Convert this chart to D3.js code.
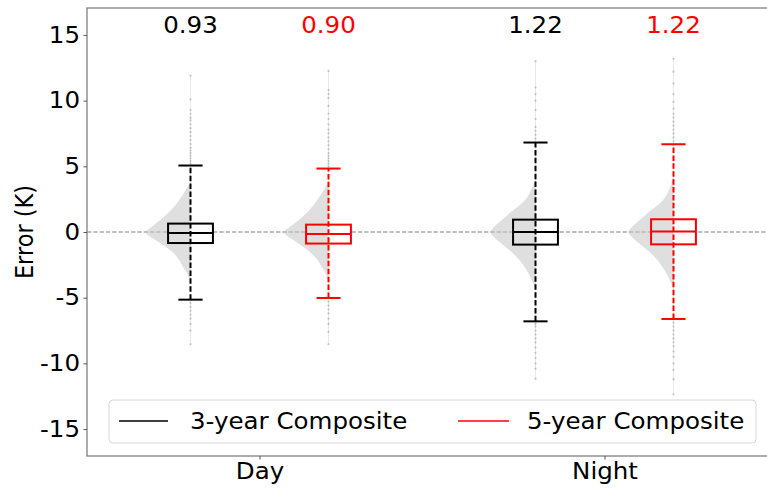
<!DOCTYPE html>
<html>
<head>
<meta charset="utf-8">
<script src="https://cdn.jsdelivr.net/npm/d3@7/dist/d3.min.js"></script>
<style>
  html, body { margin: 0; padding: 0; background: #fff; }
  svg { display: block; font-family: "DejaVu Sans", sans-serif; }
</style>
</head>
<body>
<svg id="chart" width="767" height="489"></svg>
<script>
// ---------------- DATA ----------------
const categories = ["Day", "Night"];
const seriesNames = ["3-year Composite", "5-year Composite"];
const seriesColors = ["#000000", "#ff0000"];
const yTicks = [-15, -10, -5, 0, 5, 10, 15];

// box statistics: [whiskerLow, q1, median, q3, whiskerHigh]
const day3Box   = [-5.15, -0.84, -0.08, 0.64, 5.06];
const day5Box   = [-5.02, -0.88, -0.15, 0.56, 4.83];
const night3Box = [-6.80, -0.96,  0.00, 0.94, 6.81];
const night5Box = [-6.62, -0.94,  0.03, 0.97, 6.68];

// RMSE labels shown above each box
const rmseLabels = ["0.93", "0.90", "1.22", "1.22"];

// outliers
const day3Fliers = [11.9, 10.1, 9.3, 9.0, 8.7, 8.5, 8.2, 7.9, 7.6, 7.3, 7.0, 6.7, 6.4, 6.2, 6.0, 5.8, 5.6, 5.4, 5.2,
                    -5.4, -5.7, -6.0, -6.3, -6.6, -7.0, -7.5, -8.55];
const day5Fliers = [12.26, 10.8, 10.5, 10.2, 9.6, 9.0, 8.6, 8.2, 7.8, 7.5, 7.2, 6.9, 6.6, 6.3, 6.0, 5.8, 5.6, 5.4, 5.2, 5.0,
                    -5.3, -5.6, -5.9, -6.2, -6.6, -7.0, -7.6, -8.55];
const night3Fliers = [13.0, 11.0, 10.5, 10.0, 9.3, 8.6, 8.0, 7.7, 7.4, 7.1,
                      -7.0, -7.2, -7.5, -7.8, -8.1, -8.4, -8.8, -9.2, -9.6, -10.0, -10.4, -11.17];
const night5Fliers = [13.2, 12.2, 11.3, 10.5, 9.9, 9.4, 9.0, 8.7, 8.4, 8.1, 7.8, 7.5, 7.2, 6.9,
                      -6.9, -7.2, -7.5, -7.8, -8.1, -8.4, -8.7, -9.1, -9.5, -10.0, -10.5, -11.2, -12.36];

// half-violin density profiles (relative density, peak = 1)
const day3ViolinY   = [-3.9, -3.2, -2.7, -2.2, -1.6, -1.2, -0.76, -0.4, 0, 0.3, 0.76, 1.4, 2.2, 2.9, 3.4, 3.8];
const day3ViolinD   = [0, 0.07, 0.16, 0.24, 0.38, 0.52, 0.71, 0.88, 1, 0.9, 0.73, 0.51, 0.30, 0.16, 0.07, 0];
const day5ViolinY   = [-3.7, -3.1, -2.6, -2.1, -1.6, -1.2, -0.76, -0.4, 0, 0.3, 0.76, 1.4, 2.2, 2.9, 3.4, 3.9];
const day5ViolinD   = [0, 0.07, 0.16, 0.25, 0.39, 0.53, 0.72, 0.88, 1, 0.9, 0.72, 0.50, 0.30, 0.16, 0.07, 0];
const night3ViolinY = [-4.4, -3.7, -2.9, -1.9, -0.88, -0.4, 0, 0.4, 0.9, 1.65, 2.4, 3.2, 3.7, 4.1];
const night3ViolinD = [0, 0.08, 0.2, 0.42, 0.76, 0.92, 1, 0.92, 0.76, 0.5, 0.24, 0.1, 0.04, 0];
const night5ViolinY = [-4.4, -3.7, -2.9, -1.9, -0.88, -0.4, 0, 0.4, 0.9, 1.65, 2.4, 3.2, 3.8, 4.3];
const night5ViolinD = [0, 0.08, 0.2, 0.42, 0.76, 0.92, 1, 0.92, 0.76, 0.5, 0.24, 0.1, 0.04, 0];

// ---------------- BUILD ----------------
const groups = [
  {cat: 0, ser: 0, box: day3Box,   fliers: day3Fliers,   vy: day3ViolinY,   vd: day3ViolinD,   label: rmseLabels[0]},
  {cat: 0, ser: 1, box: day5Box,   fliers: day5Fliers,   vy: day5ViolinY,   vd: day5ViolinD,   label: rmseLabels[1]},
  {cat: 1, ser: 0, box: night3Box, fliers: night3Fliers, vy: night3ViolinY, vd: night3ViolinD, label: rmseLabels[2]},
  {cat: 1, ser: 1, box: night5Box, fliers: night5Fliers, vy: night5ViolinY, vd: night5ViolinD, label: rmseLabels[3]}
];

const svg = d3.select("#chart");
const plot = {left: 87, top: 8, bottom: 456, right: 777};

const x = d3.scaleLinear().domain([0.5, 2.5]).range([plot.left, plot.right]);
const y = d3.scaleLinear().domain([-17.05, 17.05]).range([plot.bottom, plot.top]);

const offsets = [-0.2, 0.2];
const boxW = 0.13, capW = 0.07, violinW = 0.13;
const center = g => x(g.cat + 1 + offsets[g.ser]);

const font = "DejaVu Sans, sans-serif";
const FS = 22.5, SX = 1.09;

function stext(parent, tx, ty, str, anchor, color) {
  return parent.append("text")
    .attr("transform", `translate(${tx},${ty}) scale(${SX},1)`)
    .attr("text-anchor", anchor)
    .attr("font-family", font).attr("font-size", FS)
    .attr("fill", color)
    .text(str);
}

// zero line
svg.append("line")
  .attr("x1", plot.left).attr("x2", plot.right)
  .attr("y1", y(0)).attr("y2", y(0))
  .attr("stroke", "#808080").attr("stroke-width", 1.2)
  .attr("stroke-dasharray", "4.4,1.9");

groups.forEach(g => {
  const cx = center(g);
  const col = seriesColors[g.ser];
  const gg = svg.append("g");
  const [wl, q1, med, q3, wh] = g.box;
  const bw = x(boxW) - x(0), cw = x(capW) - x(0), vw = x(violinW) - x(0);

  // faint flier trail
  gg.append("line")
    .attr("x1", cx).attr("x2", cx)
    .attr("y1", y(d3.min(g.fliers))).attr("y2", y(d3.max(g.fliers)))
    .attr("stroke", "#c8c8c8").attr("stroke-opacity", 0.4).attr("stroke-width", 1);

  // fliers
  gg.selectAll("circle.f").data(g.fliers).join("circle")
    .attr("class", "f")
    .attr("cx", cx).attr("cy", d => y(d)).attr("r", 1.1)
    .attr("fill", "#888888").attr("fill-opacity", 0.45);

  // box face (white)
  gg.append("rect")
    .attr("x", cx - bw / 2).attr("y", y(q3))
    .attr("width", bw).attr("height", y(q1) - y(q3))
    .attr("fill", "#ffffff");

  // half violin
  const vdata = g.vy.map((v, i) => ({v, d: g.vd[i]}));
  const area = d3.area()
    .y(p => y(p.v))
    .x0(p => cx - p.d * vw)
    .x1(cx)
    .curve(d3.curveMonotoneY);
  gg.append("path")
    .datum(vdata)
    .attr("d", area)
    .attr("fill", "#c4c4c4").attr("fill-opacity", 0.55);

  // whisker (dashed, full range)
  gg.append("line")
    .attr("x1", cx).attr("x2", cx)
    .attr("y1", y(wl)).attr("y2", y(wh))
    .attr("stroke", col).attr("stroke-width", 2)
    .attr("stroke-dasharray", "5.5,2.4");

  // caps
  [wl, wh].forEach(v => {
    gg.append("line")
      .attr("x1", cx - cw / 2).attr("x2", cx + cw / 2)
      .attr("y1", y(v)).attr("y2", y(v))
      .attr("stroke", col).attr("stroke-width", 2);
  });

  // box outline
  gg.append("rect")
    .attr("x", cx - bw / 2).attr("y", y(q3))
    .attr("width", bw).attr("height", y(q1) - y(q3))
    .attr("fill", "none").attr("stroke", col).attr("stroke-width", 2);

  // median
  gg.append("line")
    .attr("x1", cx - bw / 2).attr("x2", cx + bw / 2)
    .attr("y1", y(med)).attr("y2", y(med))
    .attr("stroke", col).attr("stroke-width", 2);

  // rmse label
  stext(svg, cx, y(15) - 1.5, g.label, "middle", col);
});

// frame
svg.append("rect")
  .attr("x", plot.left).attr("y", plot.top)
  .attr("width", plot.right - plot.left).attr("height", plot.bottom - plot.top)
  .attr("fill", "none").attr("stroke", "#808080").attr("stroke-width", 1.3);

// y axis
const yAxis = d3.axisLeft(y).tickValues(yTicks).tickSize(3.5).tickPadding(3.5)
  .tickFormat(d => String(d));
const ya = svg.append("g").attr("transform", `translate(${plot.left},0)`).call(yAxis);
ya.select(".domain").remove();
ya.selectAll(".tick line").attr("stroke", "#555");
ya.selectAll(".tick text")
  .attr("x", null)
  .attr("transform", `translate(-7,0) scale(${SX},1)`)
  .attr("font-family", font).attr("font-size", FS).attr("fill", "#000");

// x axis
const xAxis = d3.axisBottom(x).tickValues([1, 2]).tickSize(3.5).tickPadding(3.5)
  .tickFormat((d, i) => categories[i]);
const xa = svg.append("g").attr("transform", `translate(0,${plot.bottom})`).call(xAxis);
xa.select(".domain").remove();
xa.selectAll(".tick line").attr("stroke", "#555");
xa.selectAll(".tick text")
  .attr("transform", `scale(${SX},1)`)
  .attr("font-family", font).attr("font-size", FS).attr("fill", "#000");

// y label
svg.append("text")
  .attr("transform", `translate(33,${(plot.top + plot.bottom) / 2}) rotate(-90) scale(1,${SX})`)
  .attr("text-anchor", "middle")
  .attr("font-family", font).attr("font-size", FS)
  .attr("fill", "#000")
  .text("Error (K)");

// legend
const leg = svg.append("g");
leg.append("rect")
  .attr("x", 109).attr("y", 400).attr("width", 647).attr("height", 43)
  .attr("rx", 4).attr("ry", 4)
  .attr("fill", "#fff").attr("fill-opacity", 0.8)
  .attr("stroke", "#d6d6d6").attr("stroke-width", 1);
const legX = [[119, 168, 190], [458, 509, 527]];
seriesNames.forEach((name, i) => {
  leg.append("line")
    .attr("x1", legX[i][0]).attr("x2", legX[i][1])
    .attr("y1", 421).attr("y2", 421)
    .attr("stroke", seriesColors[i]).attr("stroke-width", 1.5);
  stext(leg, legX[i][2], 429, name, "start", "#000");
});
</script>
</body>
</html>
